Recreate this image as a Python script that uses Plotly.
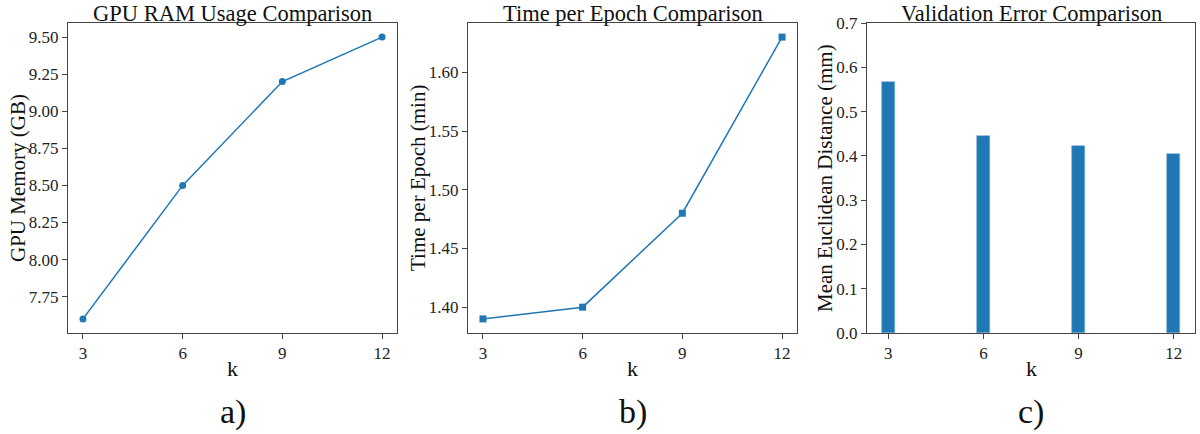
import plotly.graph_objects as go

k_values = [3, 6, 9, 12]
gpu_memory_gb = [7.6, 8.5, 9.2, 9.5]
time_per_epoch_min = [1.39, 1.40, 1.48, 1.63]
val_error_mm = [0.566, 0.445, 0.422, 0.404]

titles = ["GPU RAM Usage Comparison", "Time per Epoch Comparison", "Validation Error Comparison"]
ylabels = ["GPU Memory (GB)", "Time per Epoch (min)", "Mean Euclidean Distance (mm)"]
panel_labels = ["a)", "b)", "c)"]

FONT = "Liberation Serif, Times New Roman, serif"
BLUE = "#1f77b4"
W, H = 1200, 434

fig = go.Figure()
fig.add_trace(go.Scatter(x=k_values, y=gpu_memory_gb, mode="lines+markers",
                         line=dict(color=BLUE, width=1.5),
                         marker=dict(symbol="circle", size=7, color=BLUE),
                         xaxis="x", yaxis="y", showlegend=False))
fig.add_trace(go.Scatter(x=k_values, y=time_per_epoch_min, mode="lines+markers",
                         line=dict(color=BLUE, width=1.5),
                         marker=dict(symbol="square", size=7, color=BLUE),
                         xaxis="x2", yaxis="y2", showlegend=False))
fig.add_trace(go.Bar(x=k_values, y=val_error_mm, width=0.4,
                     marker=dict(color=BLUE, line=dict(color="#6fa8d6", width=0.6)),
                     xaxis="x3", yaxis="y3", showlegend=False))

# pixel boxes of plot areas
boxes = [(68, 397), (468, 797), (867, 1195)]
top_px, bot_px = 23, 333
ydom = [(H - bot_px) / H, (H - top_px) / H]

axis_common = dict(showgrid=False, zeroline=False, showline=True, mirror=True,
                   linecolor="#444", linewidth=1, ticks="outside", ticklen=5,
                   tickcolor="#444", tickwidth=1, automargin=False,
                   tickfont=dict(family=FONT, size=17, color="#222"))

xranges = [[2.55, 12.45], [2.55, 12.45], [2.33, 12.67]]
yranges = [[7.505, 9.595], [1.378, 1.642], [0, 0.7]]
ytickvals = [[7.75, 8.0, 8.25, 8.5, 8.75, 9.0, 9.25, 9.5],
             [1.40, 1.45, 1.50, 1.55, 1.60],
             [0, 0.1, 0.2, 0.3, 0.4, 0.5, 0.6, 0.7]]
ytickfmt = [".2f", ".2f", ".1f"]

layout = {}
annotations = []
for i in range(3):
    sfx = "" if i == 0 else str(i + 1)
    x0, x1 = boxes[i]
    layout["xaxis" + sfx] = dict(axis_common, domain=[x0 / W, x1 / W], range=xranges[i],
                                 tickvals=k_values, anchor="y" + sfx)
    layout["yaxis" + sfx] = dict(axis_common, domain=ydom, range=yranges[i],
                                 tickvals=ytickvals[i], tickformat=ytickfmt[i], anchor="x" + sfx)
    cx = (x0 + x1) / 2 / W
    annotations.append(dict(text=titles[i], x=cx, y=(H - 13) / H, xref="paper", yref="paper",
                            showarrow=False, xanchor="center", yanchor="middle",
                            font=dict(family=FONT, size=22.5, color="#111")))
    annotations.append(dict(text="k", x=cx, y=(H - 368) / H, xref="paper", yref="paper",
                            showarrow=False, xanchor="center", yanchor="middle",
                            font=dict(family=FONT, size=22, color="#111")))
    annotations.append(dict(text=panel_labels[i], x=cx, y=(H - 412) / H, xref="paper", yref="paper",
                            showarrow=False, xanchor="center", yanchor="middle",
                            font=dict(family=FONT, size=34, color="#111")))
ylab_x = [18, 418, 825]
for i in range(3):
    annotations.append(dict(text=ylabels[i], x=ylab_x[i] / W, y=(H - (top_px + bot_px) / 2) / H,
                            xref="paper", yref="paper", showarrow=False, textangle=-90,
                            xanchor="center", yanchor="middle",
                            font=dict(family=FONT, size=21, color="#111")))

fig.update_layout(**layout)
fig.update_layout(width=W, height=H, margin=dict(l=0, r=0, t=0, b=0, autoexpand=False),
                  paper_bgcolor="white", plot_bgcolor="white",
                  annotations=annotations, bargap=0)

fig.write_html("out.html", config={"displayModeBar": False},
               post_script="document.body.style.margin='0';document.body.style.overflow='hidden';")
